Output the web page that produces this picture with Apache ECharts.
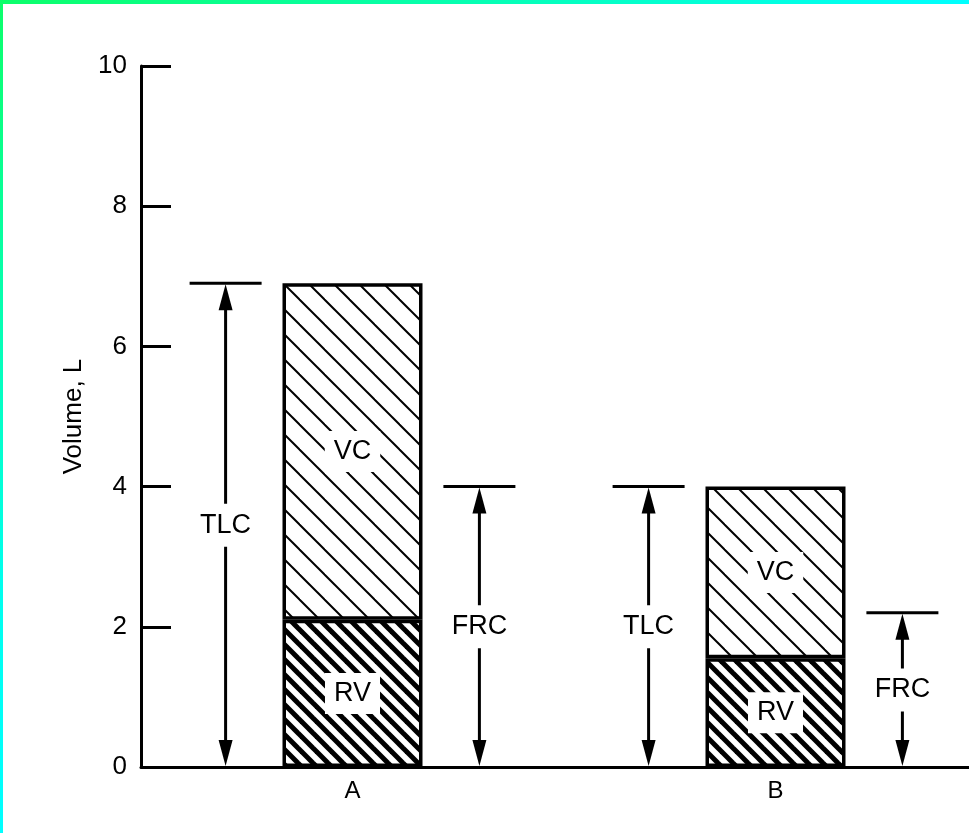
<!DOCTYPE html>
<html>
<head>
<meta charset="utf-8">
<script src="https://cdn.jsdelivr.net/npm/echarts@6/dist/echarts.min.js"></script>
<style>
html,body{margin:0;padding:0;background:#fff;}
#chart{width:969px;height:833px;}
</style>
</head>
<body>
<div id="chart"></div>
<script>
// ---- data ----
const categories = ['A', 'B'];
const rvValues = [2.1, 1.55];   // residual volume
const vcValues = [4.8, 2.45];   // vital capacity
const frcValues = [4.0, 2.2];   // functional residual capacity
const yMin = 0, yMax = 10, yInterval = 2;
const tlcValues = rvValues.map((v, i) => +(v + vcValues[i]).toFixed(2));
const dimLabels = ['TLC', 'FRC', 'TLC', 'FRC'];
const dimCats = [0, 0, 1, 1];
const dimValues = [tlcValues[0], frcValues[0], tlcValues[1], frcValues[1]];

const FONT = '"Liberation Sans", Arial, Helvetica, sans-serif';

function hatch(size, lw) {
  const c = document.createElement('canvas');
  c.width = size; c.height = size;
  const g = c.getContext('2d');
  g.fillStyle = '#fff'; g.fillRect(0, 0, size, size);
  g.strokeStyle = '#000'; g.lineWidth = lw; g.lineCap = 'butt';
  for (let k = -size; k <= size; k += size) {
    g.beginPath(); g.moveTo(k - 2, -2); g.lineTo(k + size + 2, size + 2); g.stroke();
  }
  return c;
}
const vcPattern = { image: hatch(25, 2), repeat: 'repeat' };
const rvPattern = { image: hatch(15, 5), repeat: 'repeat' };

const chart = echarts.init(document.getElementById('chart'), null, { renderer: 'canvas' });

const labelStyle = {
  show: true, position: 'inside', formatter: '{a}',
  color: '#000', fontSize: 27, fontFamily: FONT,
  backgroundColor: '#fff', padding: [7, 9]
};

const option = {
  animation: false,
  backgroundColor: '#fff',
  textStyle: { fontFamily: FONT },
  graphic: [
    { type: 'rect', left: 0, top: 0, shape: { width: 969, height: 4 }, z: 100,
      style: { fill: new echarts.graphic.LinearGradient(0, 0, 1, 0, [
        { offset: 0, color: '#0cff6a' }, { offset: 1, color: '#00ffff' }]) } },
    { type: 'rect', left: 0, top: 0, shape: { width: 3, height: 833 }, z: 100,
      style: { fill: new echarts.graphic.LinearGradient(0, 0, 0, 1, [
        { offset: 0, color: '#0cff6a' }, { offset: 0.7, color: '#00ffee' }, { offset: 1, color: '#00ffff' }]) } }
  ],
  grid: { left: 141, top: 66, width: 846, bottom: 66, containLabel: false, outerBoundsMode: 'none' },
  xAxis: {
    type: 'category', data: categories, boundaryGap: true,
    axisLine: { show: true, lineStyle: { color: '#000', width: 3 } },
    axisTick: { show: false },
    axisLabel: { color: '#000', fontSize: 24, margin: 12, fontFamily: FONT },
    splitLine: { show: false }
  },
  yAxis: {
    type: 'value', min: yMin, max: yMax, interval: yInterval,
    name: 'Volume, L', nameLocation: 'middle', nameRotate: 90, nameGap: 50,
    nameTextStyle: { color: '#000', fontSize: 26, fontFamily: FONT },
    axisLine: { show: true, lineStyle: { color: '#000', width: 3 } },
    axisTick: { show: true, inside: true, length: 30, lineStyle: { color: '#000', width: 3 } },
    axisLabel: { color: '#000', fontSize: 26, margin: 14, fontFamily: FONT },
    splitLine: { show: false }
  },
  series: [
    {
      name: 'RV', type: 'bar', stack: 'lung', data: rvValues, barWidth: 140,
      itemStyle: { color: rvPattern, borderColor: '#000', borderWidth: 3.5 },
      label: labelStyle, z: 2
    },
    {
      name: 'VC', type: 'bar', stack: 'lung', data: vcValues, barWidth: 140,
      itemStyle: { color: vcPattern, borderColor: '#000', borderWidth: 3.5 },
      label: labelStyle, z: 2
    },
    {
      name: 'dims', type: 'custom', z: 5,
      data: dimValues.map((v, i) => [dimCats[i], v]),
      encode: { x: 0, y: 1 },
      renderItem: function (params, api) {
        const cat = api.value(0), val = api.value(1);
        const label = dimLabels[params.dataIndex];
        const side = label === 'TLC' ? -1 : 1;
        const band = api.size([1, 0])[0];
        const p0 = api.coord([cat, 0]);
        const p1 = api.coord([cat, val]);
        const x = p0[0] + side * 0.3 * band;
        const yT = p1[1], yB = p0[1];
        const st = { stroke: '#000', lineWidth: 3 };
        return {
          type: 'group',
          children: [
            { type: 'line', shape: { x1: x - 36, y1: yT, x2: x + 36, y2: yT }, style: st },
            { type: 'line', shape: { x1: x, y1: yT + 20, x2: x, y2: yB - 20 }, style: st },
            { type: 'polygon', shape: { points: [[x, yT + 1], [x - 7, yT + 27], [x + 7, yT + 27]] }, style: { fill: '#000' } },
            { type: 'polygon', shape: { points: [[x, yB - 1], [x - 7, yB - 27], [x + 7, yB - 27]] }, style: { fill: '#000' } },
            { type: 'text', x: x, y: (yT + yB) / 2,
              style: { text: label, fill: '#000', fontSize: 27, fontFamily: FONT,
                align: 'center', verticalAlign: 'middle',
                backgroundColor: '#fff', padding: [8, 6] } }
          ]
        };
      }
    }
  ]
};
chart.setOption(option);
</script>
</body>
</html>
